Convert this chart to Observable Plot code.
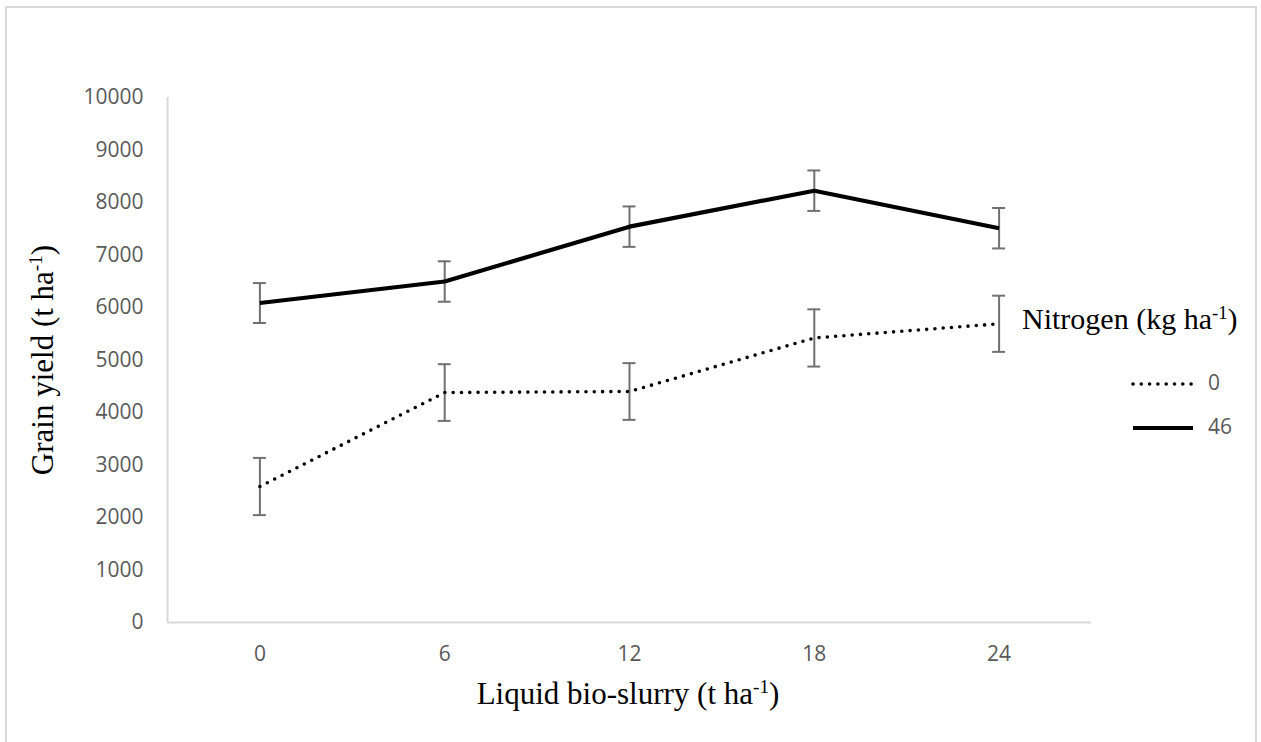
<!DOCTYPE html>
<html>
<head>
<meta charset="utf-8">
<script src="https://cdn.jsdelivr.net/npm/d3@7"></script>
<script src="https://cdn.jsdelivr.net/npm/@observablehq/plot@0.6"></script>
<style>
  html, body { margin: 0; padding: 0; background: #fff; }
  #wrap { position: relative; width: 1261px; height: 742px; overflow: hidden; }
  #frame { position: absolute; left: 5px; top: 6px; width: 1252px; height: 760px; border: 2px solid #d9d9d9; box-sizing: border-box; pointer-events: none; }
  .serif { font-family: "Liberation Serif", "DejaVu Serif", serif; color: #000; position: absolute; white-space: nowrap; line-height: 1; }
  .serif sup { font-size: 0.62em; vertical-align: 0.55em; line-height: 0; }
  .leg { position: absolute; font-family: "Open Sans", Lato, sans-serif; font-size: 21px; color: #595959; line-height: 1; }
  svg.key { position: absolute; overflow: visible; }
</style>
</head>
<body>
<div id="wrap">
  <div id="chart"></div>
</div>
<script>
// ---- data ----
const doses = [0, 6, 12, 18, 24];                 // Liquid bio-slurry (t ha-1)
const nitrogenLevels = ["0", "46"];               // Nitrogen (kg ha-1)
const yield0 = [2590, 4380, 4400, 5420, 5690];    // N = 0
const err0 = [545, 540, 540, 545, 535];
const yield46 = [6085, 6495, 7540, 8225, 7510];   // N = 46
const err46 = [380, 385, 385, 385, 385];
const yTicks = [0, 1000, 2000, 3000, 4000, 5000, 6000, 7000, 8000, 9000, 10000];
const xTicks = doses;

const rows = [];
doses.forEach((d, i) => {
  rows.push({dose: d, n: "0", y: yield0[i], e: err0[i]});
  rows.push({dose: d, n: "46", y: yield46[i], e: err46[i]});
});
const capHalf = 0.21; // half cap width in x units

const tickColor = "#595959";
const axisColor = "#d9d9d9";
const errColor = "#707070";

const chart = Plot.plot({
  width: 1261,
  height: 742,
  marginLeft: 167,
  marginRight: 170,
  marginTop: 97,
  marginBottom: 120,
  style: {fontFamily: "'Open Sans', Lato, sans-serif", fontSize: "21px", color: tickColor, background: "transparent"},
  x: {domain: [-3, 27], ticks: xTicks, tickSize: 0, tickPadding: 24, label: null},
  y: {domain: [0, 10000], ticks: yTicks, tickSize: 0, tickPadding: 24, label: null, tickFormat: d => String(d)},
  marks: [
    Plot.ruleY([0], {stroke: axisColor, strokeWidth: 2}),
    Plot.ruleX([-3], {stroke: axisColor, strokeWidth: 2}),
    // error bars
    Plot.ruleX(rows, {x: "dose", y1: d => d.y - d.e, y2: d => d.y + d.e, stroke: errColor, strokeWidth: 2}),
    Plot.ruleY(rows, {y: d => d.y + d.e, x1: d => d.dose - capHalf, x2: d => d.dose + capHalf, stroke: errColor, strokeWidth: 2}),
    Plot.ruleY(rows, {y: d => d.y - d.e, x1: d => d.dose - capHalf, x2: d => d.dose + capHalf, stroke: errColor, strokeWidth: 2}),
    // lines
    Plot.line(rows.filter(d => d.n === "0"), {x: "dose", y: "y", stroke: "#000", strokeWidth: 3.6, strokeDasharray: "0 8.3", strokeLinecap: "round"}),
    Plot.line(rows.filter(d => d.n === "46"), {x: "dose", y: "y", stroke: "#000", strokeWidth: 4.2, strokeLinecap: "butt"})
  ]
});
chart.style.position = "absolute";
chart.style.left = "0px";
chart.style.top = "0px";
const wrap = document.getElementById("wrap");
wrap.appendChild(chart);

function addHTML(html) { wrap.insertAdjacentHTML("beforeend", html); }

// frame
addHTML('<div id="frame"></div>');
// axis titles
addHTML('<div class="serif" style="font-size:31px; left:628px; top:678px; transform:translateX(-50%);">Liquid bio-slurry (t ha<sup>-1</sup>)</div>');
addHTML('<div class="serif" style="font-size:31px; left:42px; top:360px; transform:translate(-50%,-50%) rotate(-90deg);">Grain yield (t ha<sup>-1</sup>)</div>');
// legend
addHTML('<div class="serif" style="font-size:30px; left:1022px; top:304px;">Nitrogen (kg ha<sup>-1</sup>)</div>');
const legY = [384, 428];
nitrogenLevels.forEach((lv, i) => {
  const dotted = lv === "0";
  addHTML(`<svg class="key" width="64" height="10" style="left:1131px; top:${legY[i]-5}px;">
    <line x1="2" x2="62" y1="5" y2="5" stroke="#000" stroke-width="${dotted ? 3.6 : 4.2}" ${dotted ? 'stroke-dasharray="0 8.3" stroke-linecap="round"' : ''}/></svg>`);
  addHTML(`<div class="leg" style="left:1208px; top:${legY[i]-12}px;">${lv}</div>`);
});
</script>
</body>
</html>
